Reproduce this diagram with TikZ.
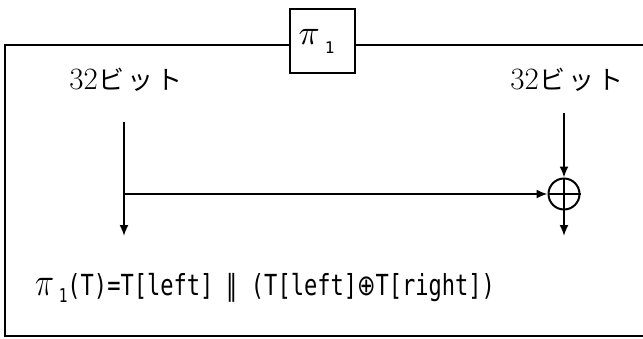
\documentclass[tikz,border=0pt]{standalone}
\usepackage{fontspec}
\newfontfamily\cjk{Noto Sans CJK JP}
\newfontfamily\gothic{DejaVu Sans Mono}
\newfontfamily\symb{DejaVu Sans}
\usetikzlibrary{arrows.meta,positioning,calc}

\tikzset{
  frame/.style={line width=2.4pt},
  flow/.style={line width=1.8pt, -{Latex[length=11pt,width=9pt]}},
  bitlabel/.style={font=\fontsize{26}{28}\selectfont, inner sep=0},
  xorgate/.style={draw, circle, line width=2pt, minimum size=31, inner sep=0},
}

\begin{document}
\begin{tikzpicture}[x=1pt,y=-1pt]
    \useasboundingbox (0,0) rectangle (643,338);

    % pi_1 box sitting on the frame
    \node[draw, frame, minimum width=65, minimum height=64, inner sep=0] (pibox) at (322.5,41)
        {\hspace*{-12pt}\scalebox{3.5}{$\pi$}\hspace{5pt}\raisebox{-9pt}{\gothic\fontsize{16}{16}\selectfont 1}};

    % outer frame (runs off the right side)
    \coordinate (ftl) at (5,45);
    \draw[frame] (pibox.west |- ftl) -- (ftl) -- (5,336) -- (655,336) -- (655,45) -- (pibox.east |- ftl);

    % bit labels
    \node[bitlabel] (lbit) at (126,80) {{\fontsize{31}{31}\selectfont 32}\hspace{1pt}{\cjk ビ\hspace{3pt}ッ\hspace{3pt}ト}};
    \node[bitlabel] (rbit) at (567,80) {{\fontsize{31}{31}\selectfont 32}\hspace{1pt}{\cjk ビ\hspace{3pt}ッ\hspace{3pt}ト}};

    % xor gate
    \node[xorgate] (xor) at (564,194) {};
    \draw[line width=2pt] (xor.north) -- (xor.south) (xor.west) -- (xor.east);

    % left branch
    \coordinate (lin) at (124,122);
    \coordinate (lout) at (124,236);
    \coordinate (ljoin) at (124,194);
    \draw[flow] (lin) -- (lout);
    \draw[flow] (ljoin) -- (xor.west);

    % right branch
    \coordinate (rin) at (564,113);
    \coordinate (rout) at (564,236);
    \draw[flow] (rin) -- (xor.north);
    \draw[flow] (xor.south) -- (rout);

    % formula
    \node[anchor=west, inner sep=0] (formula) at (35,288)
        {\scalebox{0.76}[1]{\gothic\fontsize{29}{32}\selectfont\scalebox{1.7}[1.6]{$\pi$}\hspace{6pt}\raisebox{-7pt}{\fontsize{19}{19}\selectfont 1}(T)=T[left]~{\symb ‖}~(T[left]{\symb ⊕}T[right])}};
\end{tikzpicture}
\end{document}
